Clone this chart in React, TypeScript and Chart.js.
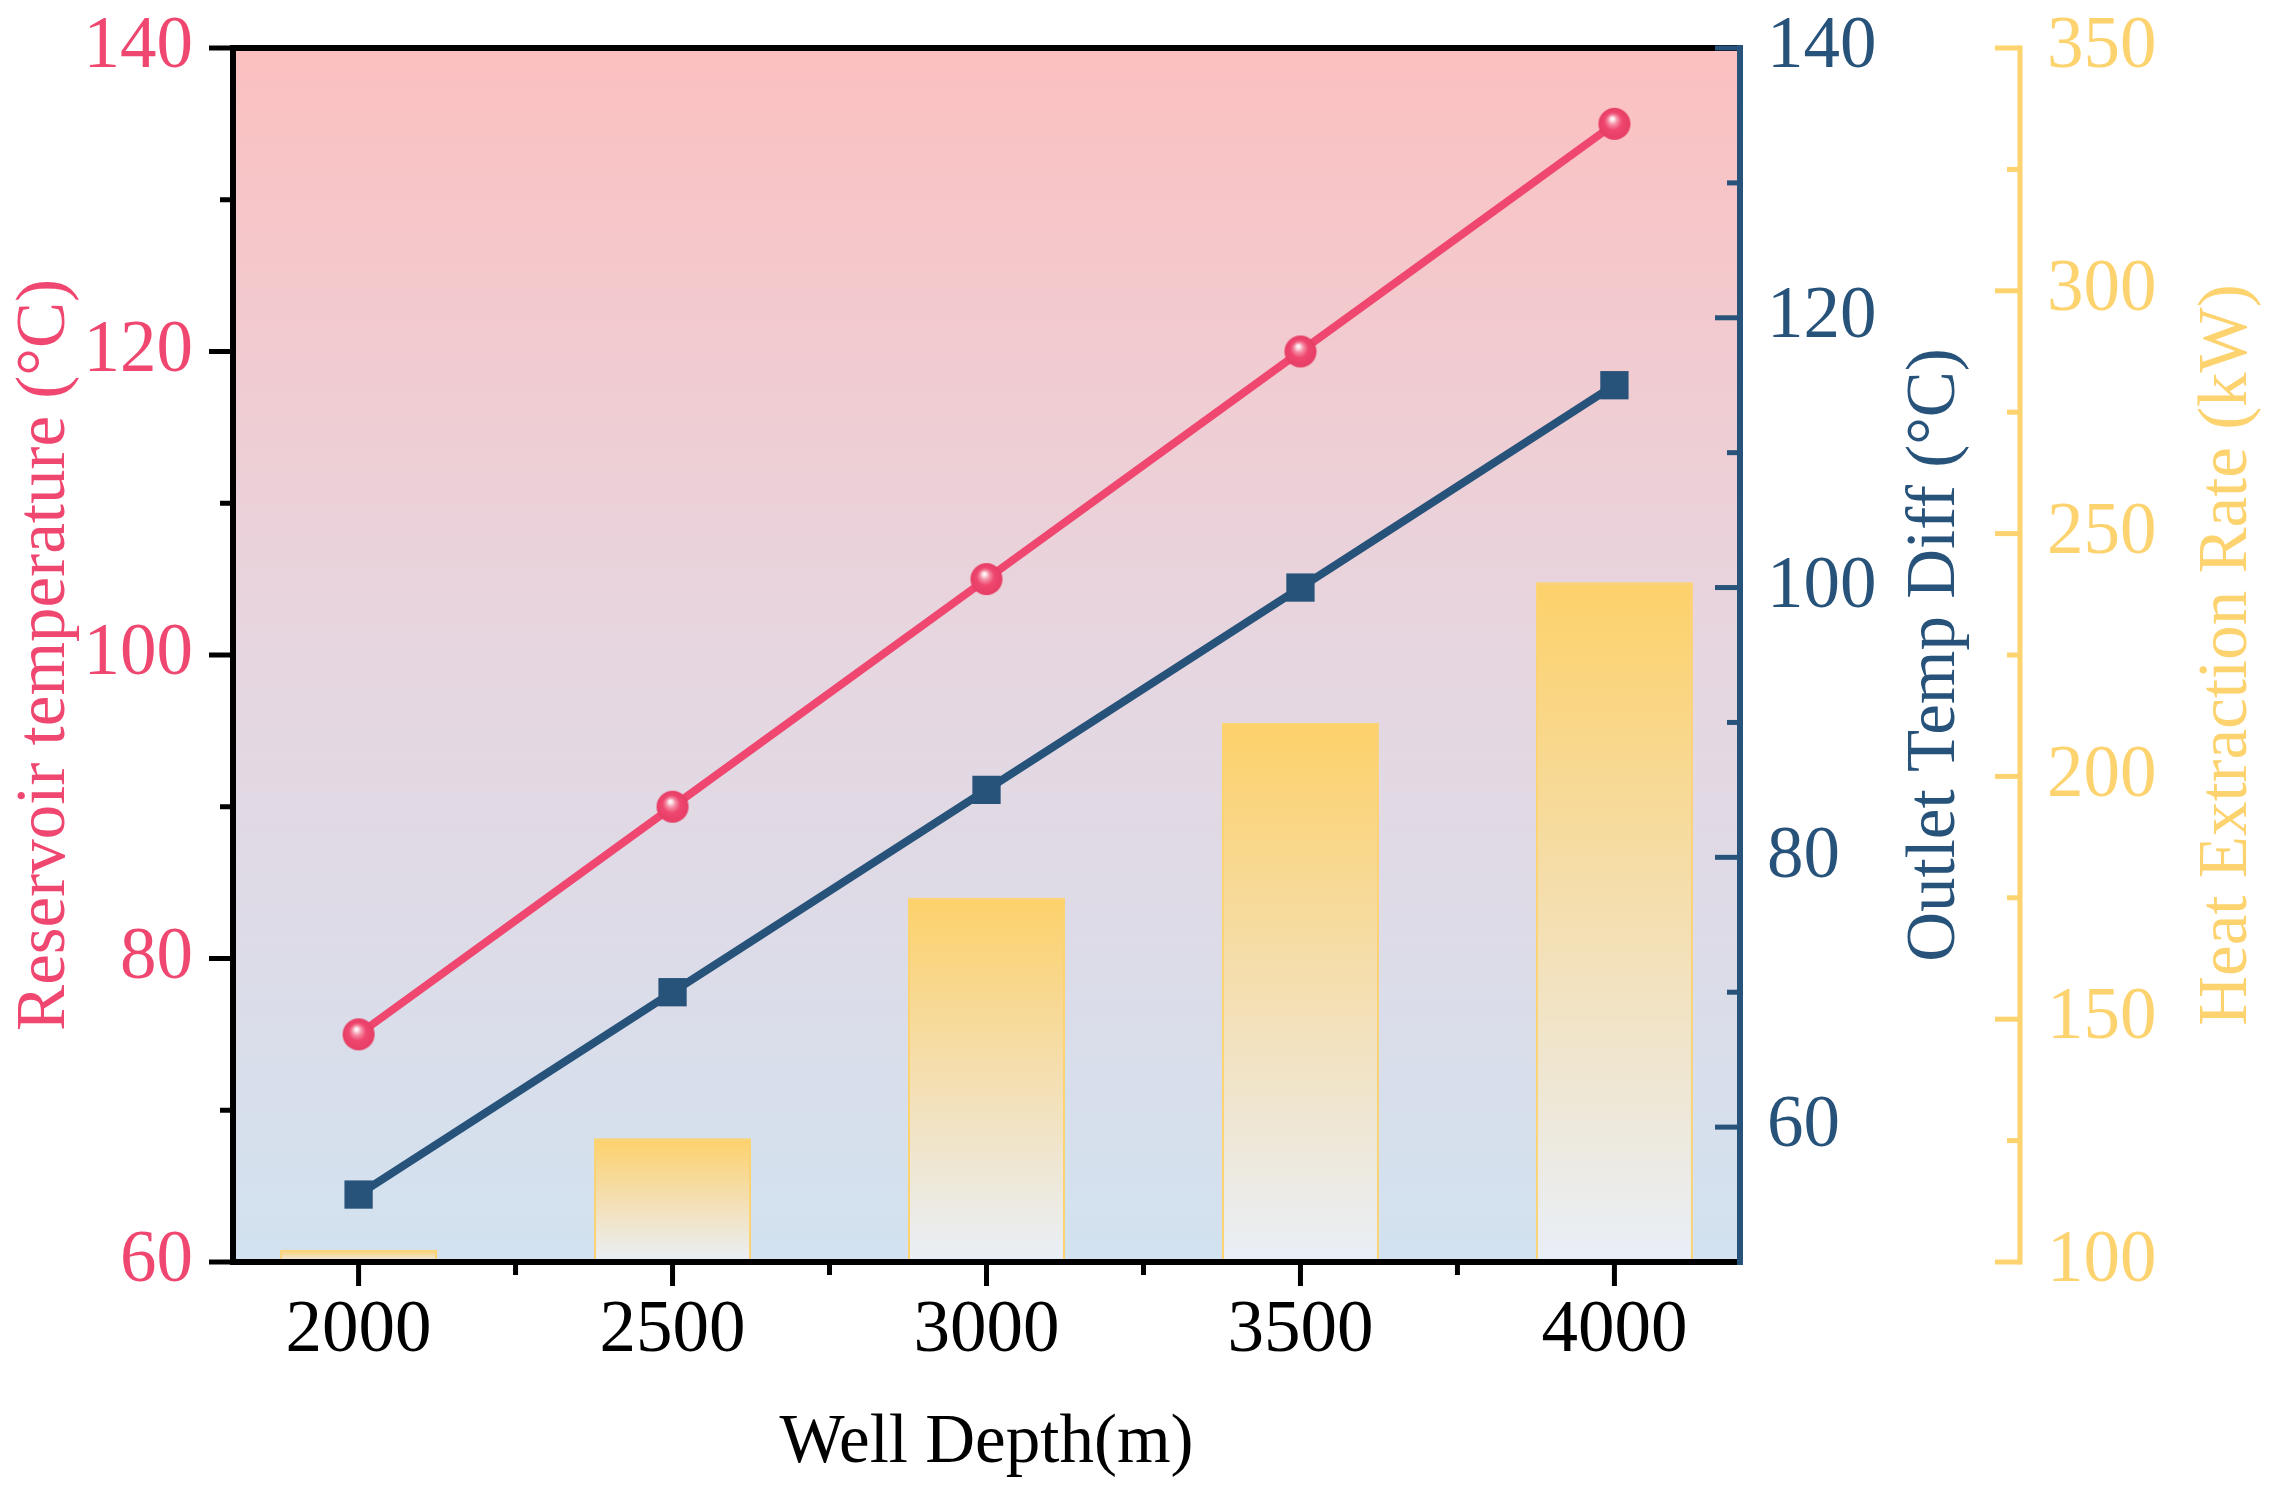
import { useEffect, useRef } from 'react';
import { Chart, registerables } from 'chart.js';

Chart.register(...registerables);

const depths = [2000, 2500, 3000, 3500, 4000];
const reservoirTemp = [75, 90, 105, 120, 135];
const outletTempDiff = [55, 70, 85, 100, 115];
const heatRate = [102.5, 125.5, 175, 211, 240];

const depthTicks = [2000, 2500, 3000, 3500, 4000];
const depthMinorTicks = [2250, 2750, 3250, 3750];
const tempTicks = [60, 80, 100, 120, 140];
const tempMinorTicks = [70, 90, 110, 130];
const diffTicks = [60, 80, 100, 120, 140];
const diffMinorTicks = [70, 90, 110, 130];
const rateTicks = [100, 150, 200, 250, 300, 350];
const rateMinorTicks = [125, 175, 225, 275, 325];

const PINK = '#EF476F';
const NAVY = '#27527A';
const GOLD = '#FDD36F';
const FONT = '"Liberation Serif", "Times New Roman", serif';

function makeSphere(r: number) {
  const c = document.createElement('canvas');
  c.width = c.height = r * 2 + 2;
  const g = c.getContext('2d')!;
  const cx = r + 1;
  const cy = r + 1;
  const grad = g.createRadialGradient(cx - r * 0.15, cy - r * 0.35, 0, cx, cy, r);
  grad.addColorStop(0, '#FFFFFF');
  grad.addColorStop(0.12, '#FCE3E9');
  grad.addColorStop(0.3, '#F58CA4');
  grad.addColorStop(0.55, PINK);
  grad.addColorStop(1, '#E63D65');
  g.fillStyle = grad;
  g.beginPath();
  g.arc(cx, cy, r, 0, Math.PI * 2);
  g.fill();
  return c;
}

// background, frame, tick marks and titles
const decor = {
  id: 'decor',
  beforeDraw(chart: any) {
    const { ctx, chartArea: a } = chart;
    ctx.save();
    ctx.fillStyle = '#ffffff';
    ctx.fillRect(0, 0, chart.width, chart.height);
    const g = ctx.createLinearGradient(0, a.top, 0, a.bottom);
    g.addColorStop(0, '#FCC0C0');
    g.addColorStop(0.5, '#E6D6E0');
    g.addColorStop(1, '#D2E2F0');
    ctx.fillStyle = g;
    ctx.fillRect(a.left, a.top, a.right - a.left, a.bottom - a.top);
    ctx.restore();
  },
  afterDraw(chart: any) {
    const { ctx, chartArea: a, scales } = chart;
    const { x, y, y2, y3 } = scales;
    const line = (x1: number, y1: number, x2: number, yy2: number) => {
      ctx.beginPath();
      ctx.moveTo(x1, y1);
      ctx.lineTo(x2, yy2);
      ctx.stroke();
    };
    ctx.save();
    ctx.lineCap = 'butt';

    // black frame: left, top, bottom
    ctx.strokeStyle = '#000';
    ctx.lineWidth = 6;
    line(a.left, a.top - 3, a.left, a.bottom + 3);
    line(a.left, a.top, a.right, a.top);
    line(a.left, a.bottom, a.right, a.bottom);
    ctx.lineWidth = 5;
    tempTicks.forEach((v) => line(a.left, y.getPixelForValue(v), a.left - 24, y.getPixelForValue(v)));
    tempMinorTicks.forEach((v) => line(a.left, y.getPixelForValue(v), a.left - 13, y.getPixelForValue(v)));
    depthTicks.forEach((v) => line(x.getPixelForValue(v), a.bottom, x.getPixelForValue(v), a.bottom + 24));
    depthMinorTicks.forEach((v) => line(x.getPixelForValue(v), a.bottom, x.getPixelForValue(v), a.bottom + 13));

    // navy right axis, ticks inward
    ctx.strokeStyle = NAVY;
    ctx.lineWidth = 6;
    line(a.right, a.top - 3, a.right, a.bottom + 3);
    ctx.lineWidth = 5;
    diffTicks.forEach((v) => line(a.right, y2.getPixelForValue(v), a.right - 25, y2.getPixelForValue(v)));
    diffMinorTicks.forEach((v) => line(a.right, y2.getPixelForValue(v), a.right - 13, y2.getPixelForValue(v)));

    // gold outer axis, ticks toward plot
    const gx = y3.left;
    ctx.strokeStyle = GOLD;
    ctx.lineWidth = 5;
    line(gx, y3.getPixelForValue(350) - 2.5, gx, y3.getPixelForValue(100) + 2.5);
    rateTicks.forEach((v) => line(gx, y3.getPixelForValue(v), gx - 25, y3.getPixelForValue(v)));
    rateMinorTicks.forEach((v) => line(gx, y3.getPixelForValue(v), gx - 13, y3.getPixelForValue(v)));

    // titles
    const cy = (a.top + a.bottom) / 2;
    ctx.font = `69px ${FONT}`;
    ctx.textAlign = 'center';
    ctx.textBaseline = 'middle';
    const vtitle = (text: string, tx: number, color: string) => {
      ctx.save();
      ctx.translate(tx, cy);
      ctx.rotate(-Math.PI / 2);
      ctx.fillStyle = color;
      ctx.fillText(text, 0, 0);
      ctx.restore();
    };
    vtitle('Reservoir temperature (°C)', 46, PINK);
    vtitle('Outlet Temp Diff (°C)', 1936, NAVY);
    vtitle('Heat Extraction Rate (kW)', 2228, GOLD);
    ctx.fillStyle = '#000';
    ctx.fillText('Well Depth(m)', (a.left + a.right) / 2, 1444);
    ctx.restore();
  },
};

const tickFont = { family: FONT, size: 73 };

const noVPad = (s: any) => {
  s.paddingTop = 0;
  s.paddingBottom = 0;
};

export default function App() {
  const canvasRef = useRef<HTMLCanvasElement>(null);

  useEffect(() => {
    if (!canvasRef.current) return;
    const sphere = makeSphere(16);

    const chart = new Chart(canvasRef.current, {
      type: 'bar',
      data: {
        datasets: [
          {
            type: 'line',
            label: 'Reservoir temperature',
            data: depths.map((d, i) => ({ x: d, y: reservoirTemp[i] })),
            yAxisID: 'y',
            borderColor: PINK,
            borderWidth: 8,
            pointStyle: sphere,
            pointRadius: 16,
            order: 1,
          },
          {
            type: 'line',
            label: 'Outlet Temp Diff',
            data: depths.map((d, i) => ({ x: d, y: outletTempDiff[i] })),
            yAxisID: 'y2',
            borderColor: NAVY,
            borderWidth: 8,
            pointStyle: 'rect',
            pointRadius: 20,
            pointBackgroundColor: NAVY,
            pointBorderWidth: 0,
            order: 2,
          },
          {
            type: 'bar',
            label: 'Heat Extraction Rate',
            data: depths.map((d, i) => ({ x: d, y: heatRate[i] })),
            yAxisID: 'y3',
            barPercentage: 0.5,
            categoryPercentage: 1,
            borderColor: GOLD,
            borderWidth: 2,
            backgroundColor: (c: any) => {
              const s = c.chart.scales.y3;
              if (!s || c.parsed == null) return GOLD;
              const top = s.getPixelForValue(c.parsed.y);
              const bottom = s.getPixelForValue(100);
              if (!isFinite(top) || !isFinite(bottom) || bottom - top < 1) return GOLD;
              const g = c.chart.ctx.createLinearGradient(0, top, 0, bottom);
              g.addColorStop(0, '#FDD16A');
              g.addColorStop(0.5, '#F4DFB2');
              g.addColorStop(1, '#E9EFF8');
              return g;
            },
            order: 3,
          } as any,
        ],
      },
      options: {
        animation: false,
        responsive: true,
        maintainAspectRatio: false,
        events: [],
        layout: { padding: { top: 48, left: 0, right: 0, bottom: 0 } },
        plugins: { legend: { display: false }, tooltip: { enabled: false } },
        scales: {
          x: {
            type: 'linear',
            position: 'bottom',
            min: 1800,
            max: 4200,
            offset: false,
            grid: { display: false, drawTicks: false },
            border: { display: false },
            afterBuildTicks: (s: any) => {
              s.ticks = depthTicks.map((v) => ({ value: v }));
            },
            afterFit: (s: any) => {
              s.height = 234;
              s.paddingLeft = 0;
              s.paddingRight = 0;
            },
            ticks: {
              font: tickFont,
              color: '#000',
              padding: 26,
              maxRotation: 0,
              autoSkip: false,
              callback: (v: any) => String(v),
            },
          },
          y: {
            position: 'left',
            min: 60,
            max: 140,
            grid: { display: false, drawTicks: false },
            border: { display: false },
            afterBuildTicks: (s: any) => {
              s.ticks = tempTicks.map((v) => ({ value: v }));
            },
            afterFit: (s: any) => {
              s.width = 233;
              noVPad(s);
            },
            ticks: { font: tickFont, color: PINK, padding: 40, callback: (v: any) => String(v) },
          },
          y2: {
            position: 'right',
            weight: 0,
            min: 50,
            max: 140,
            grid: { display: false, drawTicks: false },
            border: { display: false },
            afterBuildTicks: (s: any) => {
              s.ticks = diffTicks.map((v) => ({ value: v }));
            },
            afterFit: (s: any) => {
              s.width = 280;
              noVPad(s);
            },
            ticks: { font: tickFont, color: NAVY, padding: 27, callback: (v: any) => String(v) },
          },
          y3: {
            position: 'right',
            weight: 1,
            min: 100,
            max: 350,
            grid: { display: false, drawTicks: false },
            border: { display: false },
            afterBuildTicks: (s: any) => {
              s.ticks = rateTicks.map((v) => ({ value: v }));
            },
            afterFit: (s: any) => {
              s.width = 256;
              noVPad(s);
            },
            ticks: { font: tickFont, color: GOLD, padding: 27, callback: (v: any) => String(v) },
          },
        } as any,
      },
      plugins: [decor],
    });

    return () => {
      chart.destroy();
    };
  }, []);

  return (
    <div
      style={{
        position: 'absolute',
        top: 0,
        left: 0,
        width: 2276,
        height: 1496,
        background: '#ffffff',
      }}
    >
      <canvas ref={canvasRef}></canvas>
    </div>
  );
}
